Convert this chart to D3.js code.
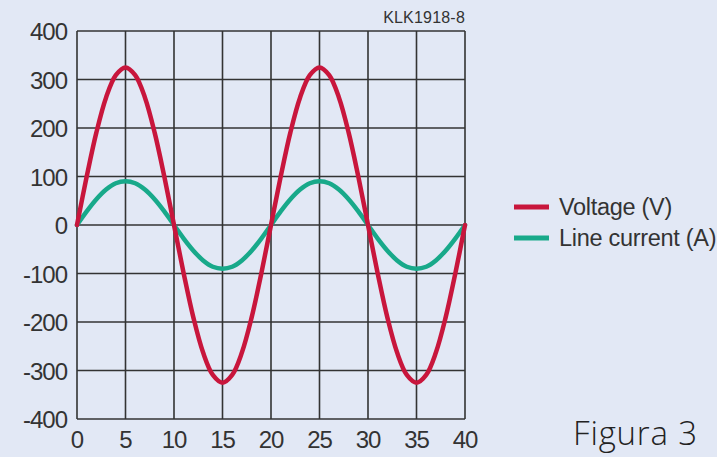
<!DOCTYPE html>
<html><head><meta charset="utf-8">
<script src="https://cdn.jsdelivr.net/npm/d3@7"></script>
<style>
html,body{margin:0;padding:0;background:#e2e8f5;}
svg{display:block;}
</style></head>
<body>
<svg id="chart" width="717" height="457"></svg>
<script>
const timeValues = d3.range(0, 41, 1);
const voltage = [0,100,191,263,309,325,309,263,191,100,0,-100,-191,-263,-309,-325,-309,-263,-191,-100,0,100,191,263,309,325,309,263,191,100,0,-100,-191,-263,-309,-325,-309,-263,-191,-100,0];
const current = [0,28,53,73,86,90,86,73,53,28,0,-28,-53,-73,-86,-90,-86,-73,-53,-28,0,28,53,73,86,90,86,73,53,28,0,-28,-53,-73,-86,-90,-86,-73,-53,-28,0];
const xTicks = [0,5,10,15,20,25,30,35,40];
const yTicks = [-400,-300,-200,-100,0,100,200,300,400];
const seriesNames = ["Voltage (V)", "Line current (A)"];
const seriesColors = ["#c8163c", "#18a98a"];
const codeLabel = "KLK1918-8";
const figureLabel = "Figura 3";

(function(){
const svg = d3.select("#chart");
const pL = 77, pR = 465, pT = 31, pB = 419;
const x = d3.scaleLinear().domain([0,40]).range([pL,pR]);
const y = d3.scaleLinear().domain([-400,400]).range([pB,pT]);

svg.append("rect").attr("width",717).attr("height",457).attr("fill","#e2e8f5");

const gridColor = "#333";
svg.append("g").selectAll("line").data(xTicks).join("line")
  .attr("x1",d=>x(d)).attr("x2",d=>x(d)).attr("y1",pT).attr("y2",pB)
  .attr("stroke",gridColor).attr("stroke-width",1.6);
svg.append("g").selectAll("line").data(yTicks).join("line")
  .attr("y1",d=>y(d)).attr("y2",d=>y(d)).attr("x1",pL).attr("x2",pR)
  .attr("stroke",gridColor).attr("stroke-width",1.6);

const font = "'Liberation Sans', Arial, sans-serif";
svg.append("g").selectAll("text").data(yTicks).join("text")
  .attr("x",67).attr("y",d=>y(d)+9)
  .attr("text-anchor","end").attr("font-family",font).attr("font-size",24)
  .attr("letter-spacing",-1).attr("fill","#333").text(d=>d);
svg.append("g").selectAll("text").data(xTicks).join("text")
  .attr("x",d=>x(d)).attr("y",448)
  .attr("text-anchor","middle").attr("font-family",font).attr("font-size",24)
  .attr("letter-spacing",-1).attr("fill","#333").text(d=>d);

const line = d3.line().x((d,i)=>x(timeValues[i])).y(d=>y(d)).curve(d3.curveCatmullRom);
svg.append("path").attr("d",line(current)).attr("fill","none")
  .attr("stroke",seriesColors[1]).attr("stroke-width",4.5).attr("stroke-linecap","round");
svg.append("path").attr("d",line(voltage)).attr("fill","none")
  .attr("stroke",seriesColors[0]).attr("stroke-width",4.5).attr("stroke-linecap","round");

svg.append("text").attr("x",465).attr("y",23).attr("text-anchor","end")
  .attr("font-family",font).attr("font-size",16).attr("letter-spacing",0.2)
  .attr("fill","#333").text(codeLabel);

const leg = svg.append("g");
seriesNames.forEach((n,i)=>{
  const yy = 207 + i*31;
  leg.append("line").attr("x1",514).attr("x2",549).attr("y1",yy).attr("y2",yy)
    .attr("stroke",seriesColors[i]).attr("stroke-width",5);
  leg.append("text").attr("x",559).attr("y",yy+8).attr("font-family",font)
    .attr("font-size",23.5).attr("letter-spacing",-0.3).attr("fill","#333").text(n);
});

svg.append("text").attr("x",573).attr("y",445).attr("font-family","'Open Sans', sans-serif")
  .attr("font-weight",300).attr("font-size",33).attr("letter-spacing",0.8)
  .attr("fill","#222").text(figureLabel);
})();
</script>
</body></html>
